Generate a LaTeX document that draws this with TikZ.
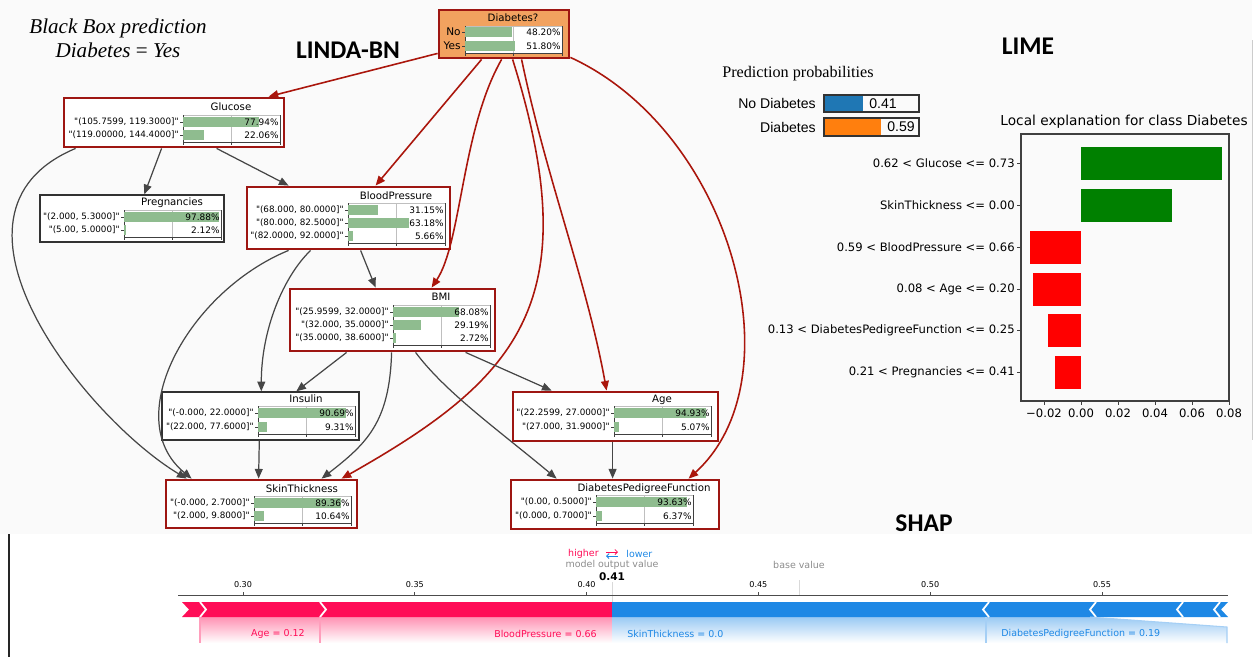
\documentclass[tikz,border=0pt]{standalone}
\usepackage{fontspec}
\usepackage{tikz}
\usetikzlibrary{arrows.meta,positioning,fit,calc}
\newfontfamily\dvs{DejaVu Sans}
\newfontfamily\lsans{Liberation Sans}
\newfontfamily\lserif{Liberation Serif}
\newfontfamily\carl{Carlito}
\definecolor{BNRed}{RGB}{158,22,18}
\definecolor{BNDark}{RGB}{50,50,50}
\definecolor{BNGreen}{RGB}{143,188,143}
\definecolor{BNOrange}{RGB}{242,162,95}
\definecolor{LinkRed}{RGB}{170,22,12}
\definecolor{LinkGrey}{RGB}{70,70,70}
\definecolor{LimeBlue}{RGB}{31,119,180}
\definecolor{LimeOrange}{RGB}{255,127,14}
\definecolor{LimeGreen}{RGB}{0,128,0}
\definecolor{LimeRed}{RGB}{255,0,0}
\definecolor{ShapRed}{RGB}{255,13,87}
\definecolor{ShapBlue}{RGB}{30,136,229}
\definecolor{PanelGray}{RGB}{250,250,250}

% bar panel of a network node: bar-left x, top y, bottom y
\newcommand{\bnframe}[3]{%
  \fill[white] (#1,#2) rectangle (#1+97,#3);
  \draw[black!25, line width=0.4pt] (#1,#2) -- (#1+97,#2);
  \draw[black!25, line width=0.4pt] (#1+48.5,#2) -- (#1+48.5,#3);
  \draw[black!75, line width=0.5pt] (#1,#2) -- (#1,#3) -- (#1+97,#3) -- (#1+97,#2);
  \foreach \tk in {0,48.5,97} \draw[black!75, line width=0.5pt] (#1+\tk,#3) -- (#1+\tk,#3+3);
}
% one state row: [label options] name, bar-left x, row y, percent, state, value text
\newcommand{\bnrow}[7][]{%
  \fill[BNGreen] (#3,#4-5) rectangle (#3+#5*0.97,#4+5);
  \draw[black!75, line width=0.5pt] (#3-3,#4) -- (#3,#4);
  \node[bnstate,#1] (#2-s) at (#3-3,#4) {#6};
  \node[bnpct] (#2-p) at (#3+97,#4) {#7};
}

\begin{document}
\begin{tikzpicture}[
  x=0.02cm, y=-0.02cm,
  bnred/.style={draw=BNRed, line width=1.6pt, fill=white, inner sep=0pt},
  bnplain/.style={draw=BNDark, line width=0.8pt, fill=white, inner sep=0pt},
  bntitle/.style={font=\dvs\fontsize{5.8}{7}\selectfont, inner sep=0pt},
  bnstate/.style={font=\dvs\fontsize{5.0}{6}\selectfont, inner sep=0.6pt, anchor=east},
  bnpct/.style={font=\dvs\fontsize{5.1}{6}\selectfont, inner sep=0.6pt, anchor=east},
  redlink/.style={draw=LinkRed, line width=0.9pt, -{Triangle[length=5.5pt,width=4.5pt]}},
  greylink/.style={draw=LinkGrey, line width=0.7pt, -{Triangle[length=5.5pt,width=4.5pt]}},
  paneltitle/.style={font=\carl\bfseries\fontsize{14.5}{16}\selectfont, inner sep=0pt},
  bbtxt/.style={font=\lserif\itshape\fontsize{12}{13.6}\selectfont, align=center, inner sep=0pt},
  probtxt/.style={font=\lsans\fontsize{8}{9}\selectfont, inner sep=0pt},
  limetxt/.style={font=\dvs\fontsize{6.6}{8}\selectfont, inner sep=0pt},
  shaptxt/.style={font=\dvs\fontsize{5.4}{6.5}\selectfont, inner sep=0pt},
  shaptick/.style={font=\dvs\fontsize{4.6}{5}\selectfont, inner sep=0pt}
]
\useasboundingbox (0,0) rectangle (1256,657);
\fill[PanelGray] (0,0) rectangle (1252,534);
\draw[black!20] (1252,40) -- (1252,440);
\draw[black!85, line width=0.8pt] (9,534) -- (9,657);

\node[bbtxt] (bbox) at (118,38) {Black Box prediction\\ Diabetes {\upshape=} Yes};
\node[paneltitle] (lindat) at (348,50) {LINDA-BN};

% LINDA-BN network
\node[bnred, fill=BNOrange, fit={(439,10) (569,58)}] (diab) {};
\node[bnred, fit={(64,98) (284,147)}] (gluc) {};
\node[bnplain, fit={(40,195) (224,242)}] (preg) {};
\node[bnred, fit={(247,187) (450,249)}] (bp) {};
\node[bnred, fit={(290,289) (495,351)}] (bmi) {};
\node[bnplain, fit={(162,392) (359,440)}] (ins) {};
\node[bnred, fit={(166,480) (357,528)}] (skin) {};
\node[bnred, fit={(513,392) (718,441)}] (age) {};
\node[bnred, fit={(511,480) (719,529)}] (dpf) {};

\node[bntitle] (diab-t) at (513,18) {Diabetes?};
\bnframe{465}{26}{53}
\bnrow[font=\dvs\fontsize{6}{7}\selectfont]{diab-no}{465}{32}{48.20}{No}{48.20\%}
\bnrow[font=\dvs\fontsize{6}{7}\selectfont]{diab-yes}{465}{46}{51.80}{Yes}{51.80\%}

\node[bntitle] (gluc-t) at (231,107) {Glucose};
\bnframe{183}{115}{142}
\bnrow{gluc-a}{183}{122}{77.94}{"(105.7599, 119.3000]"}{77.94\%}
\bnrow{gluc-b}{183}{135}{22.06}{"(119.00000, 144.4000]"}{22.06\%}

\node[bntitle] (preg-t) at (172,203) {Pregnancies};
\bnframe{124}{210}{237}
\bnrow{preg-a}{124}{217}{97.88}{"(2.000, 5.3000]"}{97.88\%}
\bnrow{preg-b}{124}{230}{2.12}{"(5.00, 5.0000]"}{2.12\%}

\node[bntitle] (bp-t) at (396,196) {BloodPressure};
\bnframe{348}{203}{243}
\bnrow{bp-a}{348}{210}{31.15}{"(68.000, 80.0000]"}{31.15\%}
\bnrow{bp-b}{348}{223}{63.18}{"(80.000, 82.5000]"}{63.18\%}
\bnrow{bp-c}{348}{236}{5.66}{"(82.0000, 92.0000]"}{5.66\%}

\node[bntitle] (bmi-t) at (441,297) {BMI};
\bnframe{393}{305}{345}
\bnrow{bmi-a}{393}{312}{68.08}{"(25.9599, 32.0000]"}{68.08\%}
\bnrow{bmi-b}{393}{325}{29.19}{"(32.000, 35.0000]"}{29.19\%}
\bnrow{bmi-c}{393}{338}{2.72}{"(35.0000, 38.6000]"}{2.72\%}

\node[bntitle] (ins-t) at (306,399) {Insulin};
\bnframe{258}{406}{434}
\bnrow{ins-a}{258}{413}{90.69}{"(-0.000, 22.0000]"}{90.69\%}
\bnrow{ins-b}{258}{427}{9.31}{"(22.000, 77.6000]"}{9.31\%}

\node[bntitle] (skin-t) at (302,489) {SkinThickness};
\bnframe{254}{496}{523}
\bnrow{skin-a}{254}{503}{89.36}{"(-0.000, 2.7000]"}{89.36\%}
\bnrow{skin-b}{254}{516}{10.64}{"(2.000, 9.8000]"}{10.64\%}

\node[bntitle] (age-t) at (662,400) {Age};
\bnframe{614}{406}{434}
\bnrow{age-a}{614}{413}{94.93}{"(22.2599, 27.0000]"}{94.93\%}
\bnrow{age-b}{614}{427}{5.07}{"(27.000, 31.9000]"}{5.07\%}

\node[bntitle] (dpf-t) at (644,489) {DiabetesPedigreeFunction};
\bnframe{596}{495}{523}
\bnrow{dpf-a}{596}{502}{93.63}{"(0.00, 0.5000]"}{93.63\%}
\bnrow{dpf-b}{596}{516}{6.37}{"(0.000, 0.7000]"}{6.37\%}

% links from the class node
\draw[redlink] ($(diab.south west)+(0,-6)$) -- ($(gluc.north west)+(206,0)$);
\draw[redlink] ($(diab.south west)+(44,0)$) -- ($(bp.north west)+(130,0)$);
\draw[redlink] ($(diab.south west)+(64,0)$) .. controls +(-40,70) and +(30,-45) .. ($(bmi.north west)+(143,0)$);
\draw[redlink] ($(diab.south west)+(75,0)$) .. controls +(76,242) and +(177,-100) .. ($(skin.north west)+(177,0)$);
\draw[redlink] ($(diab.south west)+(84,0)$) .. controls +(25,120) and +(-20,-110) .. ($(age.north west)+(95,0)$);
\draw[redlink] ($(diab.south east)+(0,-2)$) .. controls +(161,74) and +(110,-100) .. ($(dpf.north west)+(179,0)$);

% links between features
\draw[greylink] ($(gluc.south west)+(99,0)$) -- ($(preg.north west)+(105,0)$);
\draw[greylink] ($(gluc.south west)+(154,0)$) -- ($(bp.north west)+(43,0)$);
\draw[greylink] ($(gluc.south west)+(13,0)$) .. controls +(-155,65) and +(-100,-60) .. ($(skin.north west)+(22,0)$);
\draw[greylink] ($(bp.south west)+(43,0)$) .. controls +(-100,41) and +(-73,-60) .. ($(skin.north west)+(27,0)$);
\draw[greylink] ($(bp.south west)+(115,0)$) -- ($(bmi.north west)+(87,0)$);
\draw[greylink] ($(bp.south west)+(65,0)$) .. controls +(-27,26) and +(0,-62) .. ($(ins.north west)+(100,0)$);
\draw[greylink] ($(bmi.south west)+(58,0)$) -- ($(ins.north west)+(135,0)$);
\draw[greylink] ($(bmi.south west)+(103,0)$) .. controls +(-2,70) and +(45,-35) .. ($(skin.north west)+(157,0)$);
\draw[greylink] ($(bmi.south west)+(127,0)$) .. controls +(30,40) and +(-60,-50) .. ($(dpf.north west)+(47,0)$);
\draw[greylink] ($(bmi.south west)+(177,0)$) -- ($(age.north west)+(40,0)$);
\draw[greylink] ($(ins.south west)+(98,0)$) -- ($(skin.north west)+(94,0)$);
\draw[greylink] ($(age.south west)+(101,0)$) -- ($(dpf.north west)+(103,0)$);

% LIME
\node[paneltitle] (limet) at (1028,46) {LIME};
\node[font=\lserif\fontsize{9.2}{10}\selectfont, inner sep=0pt] (probt) at (798,74) {Prediction probabilities};
\fill[LimeBlue] (824,95) rectangle (863,112);
\draw[black!80, line width=0.6pt] (824,95) rectangle (919,112);
\node[probtxt, anchor=east] (nolab) at (816,103.5) {No Diabetes};
\node[probtxt] (noval) at (883,103.5) {0.41};
\fill[LimeOrange] (824,118) rectangle (881,136);
\draw[black!80, line width=0.6pt] (824,118) rectangle (919,136);
\node[probtxt, anchor=east] (yeslab) at (816,127) {Diabetes};
\node[probtxt] (yesval) at (901,127) {0.59};

\node[limetxt, font=\dvs\fontsize{7.8}{9}\selectfont] (lexpl) at (1124,122) {Local explanation for class Diabetes};
\foreach \lab/\val/\yy/\col [count=\i] in {
  0.62 < Glucose <= 0.73/0.0762/163/LimeGreen,
  SkinThickness <= 0.00/0.049/205/LimeGreen,
  0.59 < BloodPressure <= 0.66/-0.0276/247/LimeRed,
  0.08 < Age <= 0.20/-0.026/289/LimeRed,
  0.13 < DiabetesPedigreeFunction <= 0.25/-0.018/330/LimeRed,
  0.21 < Pregnancies <= 0.41/-0.014/372/LimeRed} {
  \pgfmathsetmacro\xe{1081+1850*(\val)}
  \fill[\col] (1081,\yy-16.5) rectangle (\xe,\yy+16.5);
  \draw[black!75, line width=0.5pt] (1017,\yy) -- (1021,\yy);
  \node[limetxt, anchor=east] (lime\i) at (1015,\yy) {\lab};
}
\draw[black!75, line width=0.6pt] (1021,134) rectangle (1229,401);
\foreach \v/\t [count=\i] in {-0.02/{−0.02}, 0/{0.00}, 0.02/{0.02}, 0.04/{0.04}, 0.06/{0.06}, 0.08/{0.08}} {
  \pgfmathsetmacro\xt{1081+1850*(\v)}
  \draw[black!75, line width=0.5pt] (\xt,401) -- (\xt,405);
  \node[limetxt] (limex\i) at (\xt,413) {\t};
}

% SHAP
\node[paneltitle] (shapt) at (924,523) {SHAP};
\draw[black!15, line width=0.5pt] (612,582) -- (612,643);
\draw[black!15, line width=0.5pt] (799,580) -- (799,595);
\draw[black!70, line width=0.5pt] (178,595) -- (1228,595);
\foreach \v [count=\i] in {0.30,0.35,0.40,0.45,0.50,0.55} {
  \pgfmathsetmacro\xt{243+3436*(\v-0.30)}
  \draw[black!70, line width=0.5pt] (\xt,592) -- (\xt,595);
  \node[shaptick] (shapx\i) at (\xt,585) {\v};
}
\node[shaptxt, text=ShapRed, anchor=east] (hi) at (599,554) {higher};
\draw[ShapRed, line width=0.5pt, -{Straight Barb[length=1.4pt]}] (606,552) -- (618,552);
\draw[ShapBlue, line width=0.5pt, -{Straight Barb[length=1.4pt]}] (618,556) -- (606,556);
\node[shaptxt, text=ShapBlue, anchor=west] (lo) at (626,554) {lower};
\node[shaptxt, text=black!45] (mov) at (612,565) {model output value};
\node[font=\dvs\bfseries\fontsize{6}{7}\selectfont, inner sep=0pt] (outv) at (612,577) {0.41};
\node[shaptxt, text=black!45] (basev) at (799,565) {base value};

\shade[top color=ShapRed!45, bottom color=white] (200,617) rectangle (612,643);
\shade[top color=ShapBlue!45, bottom color=white] (612,617) -- (1090,617) -- (1227,627) -- (1227,643) -- (612,643) -- cycle;
\fill[ShapRed] (182,602) -- (612,602) -- (612,617) -- (182,617) -- (189,609.5) -- cycle;
\fill[ShapBlue] (612,602) -- (1228,602) -- (1221,609.5) -- (1228,617) -- (612,617) -- cycle;
\foreach \cx in {200,320} \draw[white, line width=1pt] (\cx,602) -- (\cx+6,609.5) -- (\cx,617);
\foreach \cx in {983,1090,1177,1214} \draw[white, line width=1pt] (\cx+6,602) -- (\cx,609.5) -- (\cx+6,617);
\draw[ShapRed!40, line width=0.6pt] (200,617) -- (200,643);
\draw[ShapRed!40, line width=0.6pt] (320,617) -- (320,643);
\draw[ShapBlue!40, line width=0.6pt] (986,617) -- (986,643);
\draw[ShapBlue!40, line width=0.6pt] (1090,617) -- (1227,627) -- (1227,643);
\node[shaptxt, text=ShapRed, anchor=east] (agelab) at (305,634) {Age = 0.12};
\node[shaptxt, text=ShapRed, anchor=east] (bplab) at (597,634) {BloodPressure = 0.66};
\node[shaptxt, text=ShapBlue, anchor=west] (sklab) at (627,634) {SkinThickness = 0.0};
\node[shaptxt, text=ShapBlue, anchor=west] (dpflab) at (1001,634) {DiabetesPedigreeFunction = 0.19};
\end{tikzpicture}
\end{document}
